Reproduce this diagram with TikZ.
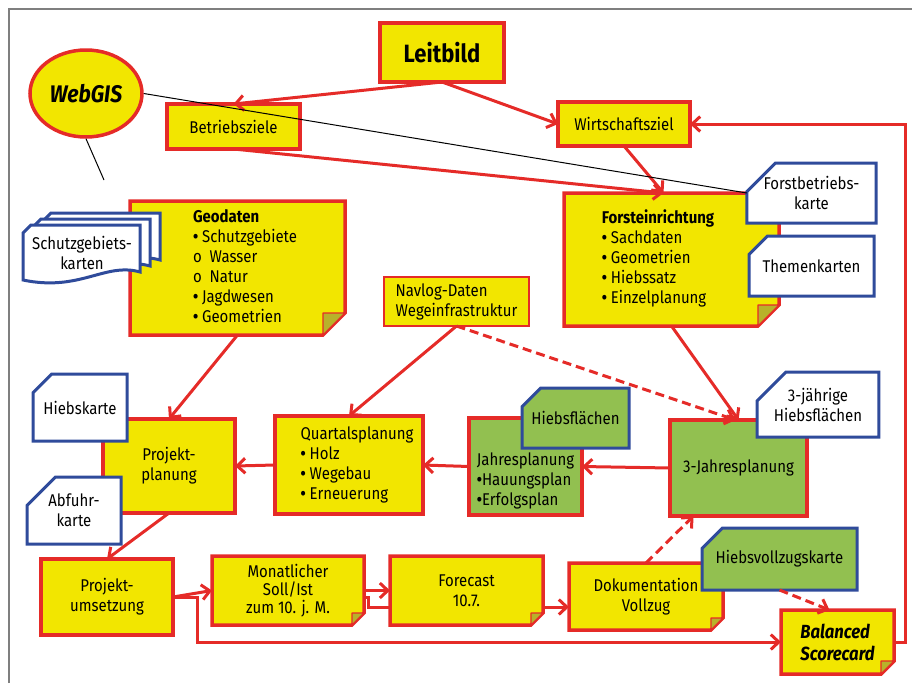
\documentclass[tikz,border=0pt]{standalone}
\usepackage{fontspec}
\setmainfont{Fira Sans}[FakeStretch=0.88]
\usetikzlibrary{arrows.meta, shapes.geometric, shapes.misc, calc, backgrounds}

\definecolor{redl}{HTML}{E52B28}
\definecolor{yellowf}{HTML}{F2E600}
\definecolor{greenf}{HTML}{92C050}
\definecolor{bluel}{HTML}{2F4B9B}
\definecolor{foldc}{HTML}{B8B22A}
\definecolor{framegray}{HTML}{7F7F7F}

\newcommand{\leftlines}[1]{\begin{tabular}{@{}l@{}}#1\end{tabular}}
\newcommand{\bul}{{\bfseries •}}
% note outline with folded corner, drawn behind the node text
\newcommand{\notedraw}[2]{%
  \begin{scope}[on background layer]
    \filldraw[fill=yellowf, draw=redl, line width=3.5pt]
      (#1.north west) -- (#1.north east) -- ($(#1.south east)+(0,-#2)$)
      -- ($(#1.south east)+(-#2,0)$) -- (#1.south west) -- cycle;
    \filldraw[fill=foldc, draw=redl, line width=1.2pt, line join=round]
      ($(#1.south east)+(0,-#2)$) -- ($(#1.south east)+(-#2,0)$)
      -- ($(#1.south east)+(-#2,-#2)$) -- cycle;
  \end{scope}}

\begin{document}
\begin{tikzpicture}[x=1pt, y=-1pt,
  font=\fontsize{17}{20}\selectfont,
  dims/.style 2 args={minimum width=#1, minimum height=#2},
  redbox/.style={rectangle, draw=redl, line width=3.5pt, fill=yellowf, inner sep=0pt, outer sep=0pt, align=center},
  notebox/.style={rectangle, inner sep=0pt, outer sep=0pt, align=center},
  mapbox/.style={chamfered rectangle, chamfered rectangle corners=north west,
    chamfered rectangle xsep=24pt, chamfered rectangle ysep=12pt,
    draw=bluel, line width=3pt, fill=white, inner sep=0pt, outer sep=0pt, align=center},
  flow/.style={draw=redl, line width=3pt, -{Straight Barb[length=8pt,width=15pt]}},
  dashflow/.style={flow, dash pattern=on 9pt off 5pt},
]
\useasboundingbox (0,0) rectangle (912,683);

% Frame
\draw[framegray, line width=1.2pt] (9,683) -- (9,9) -- (912,9);

% Top row
\node[redbox, dims={124pt}{59pt}, font=\fontsize{25}{30}\selectfont\bfseries] (leitbild) at (442,52.5) {Leitbild};
\node[ellipse, draw=redl, line width=3.5pt, fill=yellowf, inner sep=0pt, dims={112pt}{87pt},
  font=\fontsize{24}{28}\selectfont\bfseries\itshape] (webgis) at (86,93.5) {WebGIS};
\node[redbox, dims={133pt}{45pt}] (betrieb) at (233.5,126.5) {Betriebsziele};
\node[redbox, dims={132pt}{44pt}] (wirtschaft) at (624,124) {Wirtschaftsziel};

% Data boxes
\node[notebox, dims={215pt}{134pt}] (geodaten) at (237.5,268)
  {\hspace*{15pt}\leftlines{\textbf{Geodaten}\\\bul\ Schutzgebiete\\o\ \ Wasser\\o\ \ Natur\\\bul\ Jagdwesen\\\bul\ Geometrien}};
\notedraw{geodaten}{22}
\node[notebox, dims={215pt}{133pt}] (forst) at (671.5,259.5)
  {\leftlines{\textbf{Forsteinrichtung}\\\bul\ Sachdaten\\\bul\ Geometrien\\\bul\ Hiebssatz\\\bul\ Einzelplanung}\hspace*{27pt}};
\notedraw{forst}{21}
\node[redbox, line width=2.5pt, dims={145pt}{49pt}, align=left] (navlog) at (456.5,301.5) {Navlog-Daten\\Wegeinfrastruktur};

% Schutzgebietskarten (stacked maps)
\foreach \d in {2,1,0}
  \draw[draw=bluel, line width=3pt, fill=white, shift={(10*\d,-6*\d)}]
    (23,233) -- (31,225) -- (140,225) -- (140,272) .. controls (105,262) and (80,292) .. (23,280) -- cycle;
\node[align=center] (schutz) at (82,253) {Schutzgebiets-\\karten};

% Planning row
\node[redbox, dims={132pt}{94pt}] (projplan) at (169,466) {Projekt-\\planung};
\node[redbox, dims={148pt}{98pt}] (quartal) at (349,465)
  {\hspace*{16pt}\leftlines{Quartalsplanung\\\bul\ Holz\\\bul\ Wegebau\\\bul\ Erneuerung}};
\node[redbox, fill=greenf, dims={113pt}{97pt},
  label={[align=left, yshift=-14pt]center:{Jahresplanung\\\bul Hauungsplan\\\bul Erfolgsplan}}] (jahres) at (525.5,466.5) {};
\node[redbox, fill=greenf, dims={137pt}{96pt}] (dreij) at (738.5,468) {3-Jahresplanung};

% Bottom row
\node[redbox, dims={132pt}{76pt}] (projums) at (107,597) {Projekt-\\umsetzung};
\node[notebox, dims={152pt}{69pt}, font=\fontsize{17}{18}\selectfont] (monat) at (288,590.5) {Monatlicher\\Soll/Ist\\zum 10. j. M.};
\notedraw{monat}{12}
\node[notebox, dims={153pt}{69pt}] (forecast) at (466.5,590.5) {Forecast\\10.7.};
\notedraw{forecast}{12}
\node[notebox, dims={154pt}{67pt}] (doku) at (646,596.5) {Dokumentation\\Vollzug};
\notedraw{doku}{12}
\node[notebox, dims={113pt}{64pt}, align=left, font=\fontsize{19}{22}\selectfont\bfseries\itshape] (bsc) at (837.5,642) {Balanced\\Scorecard};
\notedraw{bsc}{13}

% Maps
\node[mapbox, dims={125pt}{60pt}] (fbkarte) at (811.5,193) {Forstbetriebs-\\karte};
\node[mapbox, dims={125pt}{60pt}] (themen) at (811.5,266) {Themenkarten};
\node[mapbox, chamfered rectangle xsep=17pt, dims={94pt}{67pt}] (hiebskarte) at (80,407.5) {Hiebskarte};
\node[mapbox, chamfered rectangle xsep=17pt, dims={94pt}{67pt}] (abfuhr) at (74,510.5) {Abfuhr-\\karte};
\node[mapbox, fill=greenf, chamfered rectangle xsep=21pt, dims={107pt}{60pt}] (hiebsfl) at (575.5,418) {Hiebsflächen};
\node[mapbox, chamfered rectangle xsep=19pt, dims={112pt}{65pt}] (dreijkarte) at (818,404.5) {3-jährige\\Hiebsflächen};
\node[mapbox, fill=greenf, chamfered rectangle xsep=31pt, dims={155pt}{62pt}] (hvkarte) at (779.5,559) {Hiebsvollzugskarte};

% Connectors
\draw[flow] (leitbild.south) -- (betrieb.north);
\draw[flow] (leitbild.south) -- (wirtschaft.west);
\draw[flow] (betrieb.south) -- ([xshift=-8pt]forst.north);
\draw[flow] (wirtschaft.south) -- ([xshift=-8pt]forst.north);
\coordinate (gisend) at (104,180);
\draw[black, line width=1pt] (webgis.east) -- (fbkarte.west);
\draw[black, line width=1pt] (webgis.south) -- (gisend);

\draw[flow] (geodaten.south) -- (projplan.north);
\draw[flow] (navlog.south) -- (quartal.north);
\draw[dashflow] (navlog.south) -- ([xshift=-3pt]dreij.north);
\draw[flow] (forst.south) -- (dreij.north);
\draw[flow] (quartal.west) -- (projplan.east);
\draw[flow] (jahres.west) -- (quartal.east);
\draw[flow] (dreij.west) -- (jahres.east);
\draw[flow] (projplan.south) -- (projums.north);

\draw[flow] (projums.east) -- (monat.west);
\draw[flow] (projums.east) -- ++(24,0) |- (bsc.west);
\draw[flow] (monat.east) -- (forecast.west);
\draw[draw=redl, line width=3pt] ($(monat.east)+(0,7)$) -- ++(4,0) |- ($(forecast.west)+(0,16.5)$);
\coordinate (fcout) at ($(forecast.east)+(0,16.5)$);
\draw[flow] (fcout) -- (fcout -| doku.west);
\draw[dashflow] (doku.north) -- ([xshift=-45pt]dreij.south);
\draw[dashflow] (hvkarte.south) -- ([xshift=-8pt]bsc.north);
\draw[flow] (bsc.east) -- ++(11,0) |- (wirtschaft.east);
\end{tikzpicture}
\end{document}
